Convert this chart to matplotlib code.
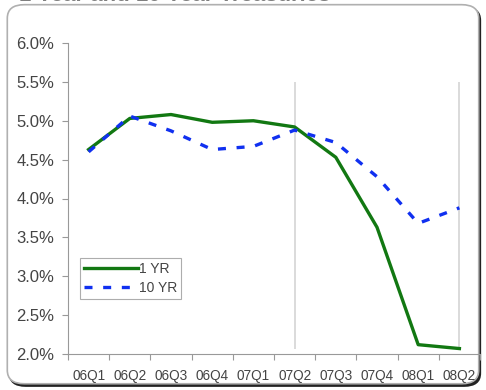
import matplotlib
matplotlib.use("Agg")
import matplotlib.pyplot as plt
from matplotlib.patches import FancyBboxPatch
from matplotlib.ticker import FixedLocator, FuncFormatter

# quarters and yields (%)
quarters = ["06Q1", "06Q2", "06Q3", "06Q4", "07Q1", "07Q2", "07Q3", "07Q4", "08Q1", "08Q2"]
one_yr = [4.63, 5.03, 5.08, 4.98, 5.00, 4.92, 4.53, 3.63, 2.12, 2.07]
ten_yr = [4.60, 5.06, 4.87, 4.63, 4.67, 4.88, 4.72, 4.28, 3.68, 3.88]
marker_quarters = ["07Q2", "08Q2"]

plt.rcParams['font.family'] = ['Liberation Sans', 'DejaVu Sans']

fig = plt.figure(figsize=(4.86, 3.90), dpi=100)

# rounded chart frame with a shadow
shadow = FancyBboxPatch((0.018, 0.008), 0.972, 0.975, boxstyle="round,pad=0,rounding_size=0.035",
                        transform=fig.transFigure, facecolor="#222222", edgecolor="none", zorder=0)
frame = FancyBboxPatch((0.015, 0.016), 0.97, 0.972, boxstyle="round,pad=0,rounding_size=0.035",
                       transform=fig.transFigure, facecolor="white", edgecolor="#b0b0b0",
                       linewidth=1.2, zorder=1)
fig.patches.extend([shadow, frame])

# title, cut off at the top of the picture as in the source
fig.text(0.04, 1 - 0.8 / 390, "1 Year and 10 Year Treasuries", fontsize=16, fontweight="bold",
         color="#808080", va="baseline", ha="left")

ax = fig.add_axes([68 / 486, 1 - 354 / 390, (480 - 68) / 486, (354 - 43) / 390])
ax.set_zorder(2)
ax.patch.set_alpha(0)

x = list(range(len(quarters)))
ax.vlines([quarters.index(q) for q in marker_quarters], 2.07, 5.5, color="#d4d4d4", linewidth=1.2, zorder=1)

ax.plot(x, one_yr, color="#127812", linewidth=2.4, label="1 YR", zorder=3)
ax.plot(x, ten_yr, color="#1030f0", linewidth=2.4, dashes=(2.4, 3.2), label="10 YR", zorder=3)

ax.set_xlim(-0.5, len(quarters) - 0.5)
ax.set_ylim(2.0, 6.0)

ax.set_xticks(x)
ax.set_xticklabels(quarters)
ax.xaxis.set_minor_locator(FixedLocator([i - 0.5 for i in range(len(quarters) + 1)]))
ax.tick_params(axis="x", which="major", length=0, labelsize=9.8, colors="#444444", pad=11)
ax.tick_params(axis="x", which="minor", length=4, color="#999999", width=0.8)

ax.set_yticks([2.0 + 0.5 * i for i in range(9)])
ax.yaxis.set_major_formatter(FuncFormatter(lambda v, p: f"{v:.1f}%"))
ax.tick_params(axis="y", length=4, color="#999999", width=0.8, labelsize=12, labelcolor="#444444", pad=6)

for side in ("top", "right"):
    ax.spines[side].set_visible(False)
for side in ("left", "bottom"):
    ax.spines[side].set_color("#999999")
    ax.spines[side].set_linewidth(0.8)

leg = ax.legend(loc="upper left", bbox_to_anchor=(12 / 412, (354 - 258) / 311), fontsize=10,
                frameon=True, fancybox=False, edgecolor="#999999", handlelength=3.9,
                handletextpad=0.05, borderpad=0.3, labelspacing=0.35, borderaxespad=0)
leg.get_frame().set_linewidth(0.8)
for t in leg.get_texts():
    t.set_color("#444444")

fig.savefig("out.png", dpi=100)
